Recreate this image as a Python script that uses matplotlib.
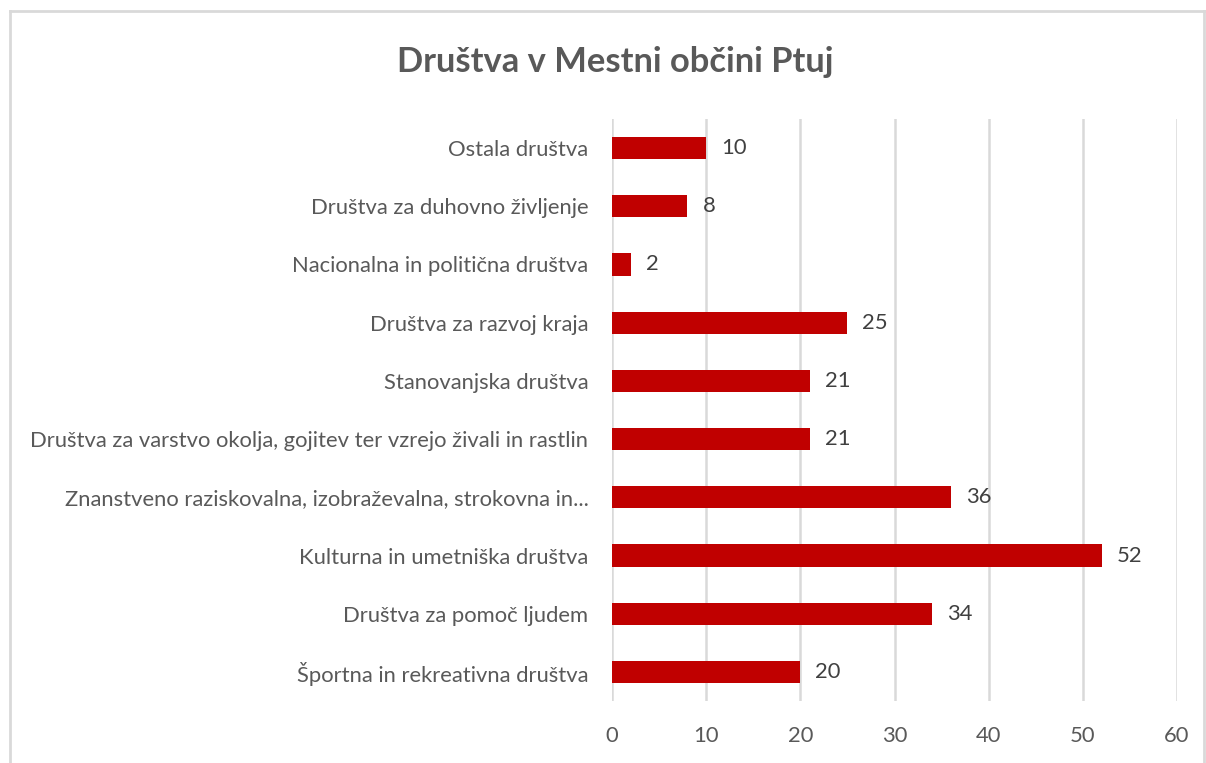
import matplotlib.pyplot as plt
from matplotlib.lines import Line2D

plt.rcParams['font.family'] = ['Lato', 'DejaVu Sans']

categories = [
    "Športna in rekreativna društva",
    "Društva za pomoč ljudem",
    "Kulturna in umetniška društva",
    "Znanstveno raziskovalna, izobraževalna, strokovna in...",
    "Društva za varstvo okolja, gojitev ter vzrejo živali in rastlin",
    "Stanovanjska društva",
    "Društva za razvoj kraja",
    "Nacionalna in politična društva",
    "Društva za duhovno življenje",
    "Ostala društva",
]
values = [20, 34, 52, 36, 21, 21, 25, 2, 8, 10]
xticks = [0, 10, 20, 30, 40, 50, 60]

bar_color = "#C00000"
text_color = "#595959"

fig = plt.figure(figsize=(12.06, 7.63), dpi=100)
ax = fig.add_axes([612 / 1206, 1 - 701 / 763, (1177 - 612) / 1206, (701 - 119) / 763])

pos = range(len(categories))
ax.barh(pos, values, height=0.38, color=bar_color, zorder=3)
for p, v in zip(pos, values):
    ax.text(v + 1.6, p, str(v), va="center", ha="left", fontsize=15.8, color="#404040")

ax.set_xlim(0, 60)
ax.set_ylim(-0.5, len(categories) - 0.5)
ax.set_xticks(xticks)
ax.set_yticks(list(pos))
ax.set_yticklabels(categories)
ax.tick_params(axis="both", length=0, labelsize=15.8, labelcolor=text_color)
ax.tick_params(axis="y", pad=17)
ax.tick_params(axis="x", pad=18)
ax.grid(axis="x", color="#d9d9d9", linewidth=1.8, zorder=0)
for s in ax.spines.values():
    s.set_visible(False)

fig.text(615 / 1206, 1 - 62 / 763, "Društva v Mestni občini Ptuj", ha="center", va="center",
         fontsize=24.8, fontweight="bold", color=text_color)

# chart border
fig.add_artist(Line2D([10 / 1206, 10 / 1206], [0, 1 - 11 / 763], color="#d9d9d9", linewidth=2))
fig.add_artist(Line2D([10 / 1206, 1], [1 - 11 / 763, 1 - 11 / 763], color="#d9d9d9", linewidth=2))
fig.add_artist(Line2D([1204 / 1206, 1204 / 1206], [0, 1 - 11 / 763], color="#d9d9d9", linewidth=2))

fig.savefig("out.png", dpi=100)
